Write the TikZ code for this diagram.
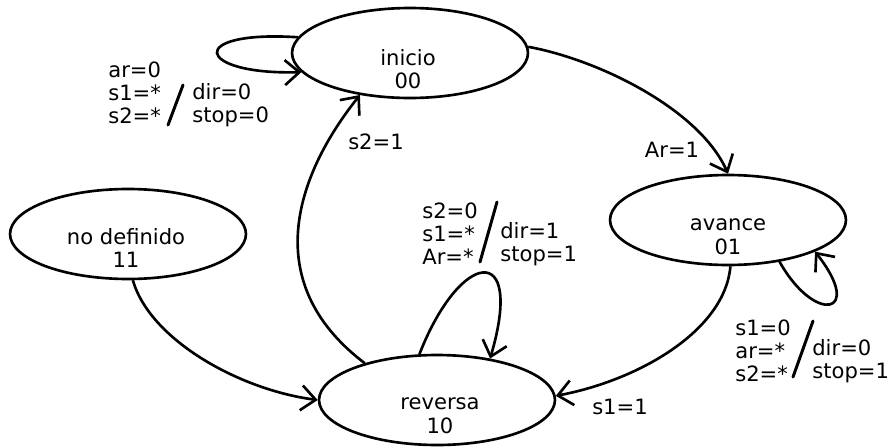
\documentclass[tikz,border=0pt]{standalone}
\usepackage{fontspec}
\setmainfont{DejaVu Sans}
\usepackage{tikz}
\usetikzlibrary{arrows.meta,shapes.geometric}
\tikzset{
  base/.style={font=\fontsize{12}{13}\selectfont, align=left, inner sep=0pt, text=black},
  state/.style={ellipse, draw=black, line width=1.5pt, minimum width=4.72cm, minimum height=1.8cm, inner sep=0pt},
  stxt/.style={base, align=center, font=\fontsize{12}{13.5}\selectfont},
  cond/.style={base, anchor=west},
  lbl/.style={base},
  arr/.style={-{Straight Barb[length=2.9mm,width=5mm]}, line width=1.5pt},
  bar/.style={line width=1.7pt, line cap=round},
}
\begin{document}
\begin{tikzpicture}[x=0.02cm,y=-0.02cm]
  \useasboundingbox (0,0) rectangle (890,447);
  % states
  \node[state] (ini)   at (410,53)  {};
  \node[state] (ava)   at (728,220) {};
  \node[state] (nodef) at (128,234) {};
  \node[state] (rev)   at (437,400) {};
  \node[stxt] (iniT)   at (408,69)  {inicio\\00};
  \node[stxt] (avaT)   at (728,237) {avance\\01};
  \node[stxt] (nodefT) at (126,248) {no definido\\11};
  \node[stxt] (revT)   at (440,416) {reversa\\10};
  % transitions
  \draw[arr] (ini.172) .. controls (185,30) and (195,75) .. (ini.190);
  \draw[arr] (ini.3) .. controls (600,60) and (700,110) .. (ava.90);
  \draw[arr] (ava.-39) .. controls (815,325) and (865,315) .. (ava.-20);
  \draw[arr] (ava.-87) .. controls (725,330) and (640,380) .. (rev.2);
  \draw[arr] (rev.153) .. controls (255,280) and (300,170) .. (ini.220);
  \draw[arr] (rev.111) .. controls (460,250) and (525,240) .. (rev.38);
  \draw[arr] (nodef.-84) .. controls (150,340) and (240,390) .. (rev.180);
  % labels
  \node[lbl] (lAr) at (672,150) {Ar=1};
  \node[lbl] (lS2) at (376,142) {s2=1};
  \node[lbl] (lS1) at (620,407) {s1=1};
  \node[cond] (cIni) at (108,93)  {ar=0\\s1=*\\s2=*};
  \node[cond] (oIni) at (192,105) {dir=0\\stop=0};
  \node[cond] (cRev) at (422,234) {s2=0\\s1=*\\Ar=*};
  \node[cond] (oRev) at (500,244) {dir=1\\stop=1};
  \node[cond] (cAva) at (735,351) {s1=0\\ar=*\\s2=*};
  \node[cond] (oAva) at (812,361) {dir=0\\stop=1};
  \foreach \x/\y/\u/\v in {183/85/168/125, 497/202/480/262, 813/321/793/377}{\draw[bar] (\x,\y) -- (\u,\v);}
\end{tikzpicture}
\end{document}
